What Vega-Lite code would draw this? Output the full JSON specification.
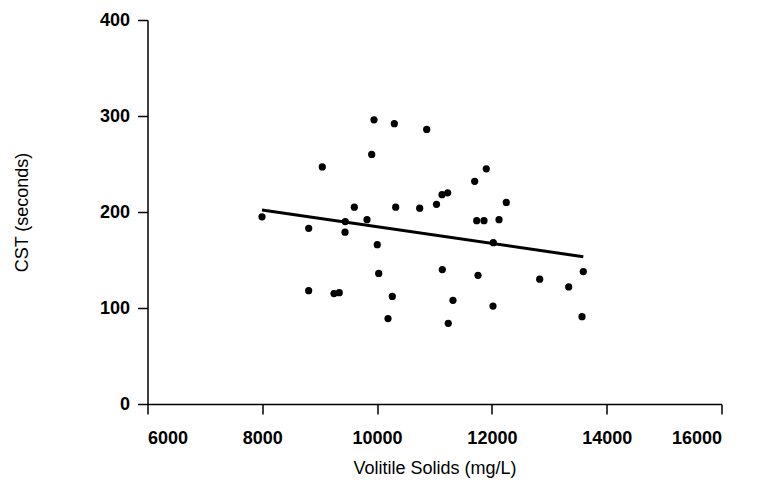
{
  "$schema": "https://vega.github.io/schema/vega-lite/v6.json",
  "width": 574,
  "height": 384,
  "autosize": {"type": "none"},
  "padding": {"left": 147.5, "top": 20, "right": 35.5, "bottom": 94},
  "background": "white",
  "config": {
    "view": {"stroke": null},
    "axis": {
      "grid": false,
      "domainColor": "black",
      "domainWidth": 1.5,
      "tickColor": "black",
      "tickWidth": 1.5,
      "tickSize": 10,
      "labelColor": "black",
      "labelFont": "Liberation Sans",
      "labelFontWeight": "bold",
      "labelFontSize": 18,
      "titleColor": "black",
      "titleFont": "Liberation Sans",
      "titleFontWeight": "normal",
      "titleFontSize": 18
    }
  },
  "datasets": {
    "samples": [
      {"vs": 9946, "cst": 296},
      {"vs": 10300, "cst": 292},
      {"vs": 10864, "cst": 286},
      {"vs": 9906, "cst": 260},
      {"vs": 9045, "cst": 247},
      {"vs": 9603, "cst": 205},
      {"vs": 10324, "cst": 205},
      {"vs": 10742, "cst": 204},
      {"vs": 11035, "cst": 208},
      {"vs": 7995, "cst": 195},
      {"vs": 9446, "cst": 190},
      {"vs": 9824, "cst": 192},
      {"vs": 8808, "cst": 183},
      {"vs": 9441, "cst": 179},
      {"vs": 10003, "cst": 166},
      {"vs": 10028, "cst": 136},
      {"vs": 8808, "cst": 118},
      {"vs": 9249, "cst": 115},
      {"vs": 9341, "cst": 116},
      {"vs": 10265, "cst": 112},
      {"vs": 10190, "cst": 89},
      {"vs": 11902, "cst": 245},
      {"vs": 11700, "cst": 232},
      {"vs": 11131, "cst": 218},
      {"vs": 11230, "cst": 220},
      {"vs": 12251, "cst": 210},
      {"vs": 11735, "cst": 191},
      {"vs": 11862, "cst": 191},
      {"vs": 12124, "cst": 192},
      {"vs": 12024, "cst": 168},
      {"vs": 11136, "cst": 140},
      {"vs": 11758, "cst": 134},
      {"vs": 12833, "cst": 130},
      {"vs": 13338, "cst": 122},
      {"vs": 13592, "cst": 138},
      {"vs": 11322, "cst": 108},
      {"vs": 12019, "cst": 102},
      {"vs": 11240, "cst": 84},
      {"vs": 13570, "cst": 91}
    ],
    "fit": [
      {"vs": 7995, "cst": 202},
      {"vs": 13592, "cst": 153.4}
    ]
  },
  "layer": [
    {
      "data": {"name": "fit"},
      "mark": {"type": "line", "color": "black", "strokeWidth": 3},
      "encoding": {
        "x": {"field": "vs", "type": "quantitative"},
        "y": {"field": "cst", "type": "quantitative"}
      }
    },
    {
      "data": {"name": "samples"},
      "mark": {"type": "circle", "size": 52, "color": "black", "opacity": 1},
      "encoding": {
        "x": {
          "field": "vs",
          "type": "quantitative",
          "scale": {"domain": [6000, 16000], "nice": false, "zero": false},
          "axis": {
            "title": "Volitile Solids (mg/L)",
            "values": [6000, 8000, 10000, 12000, 14000, 16000],
            "format": "d",
            "labelPadding": 15,
            "titlePadding": 12
          }
        },
        "y": {
          "field": "cst",
          "type": "quantitative",
          "scale": {"domain": [0, 400], "nice": false},
          "axis": {
            "title": "CST (seconds)",
            "values": [0, 100, 200, 300, 400],
            "format": "d",
            "labelPadding": 8,
            "titlePadding": 68
          }
        }
      }
    }
  ]
}
